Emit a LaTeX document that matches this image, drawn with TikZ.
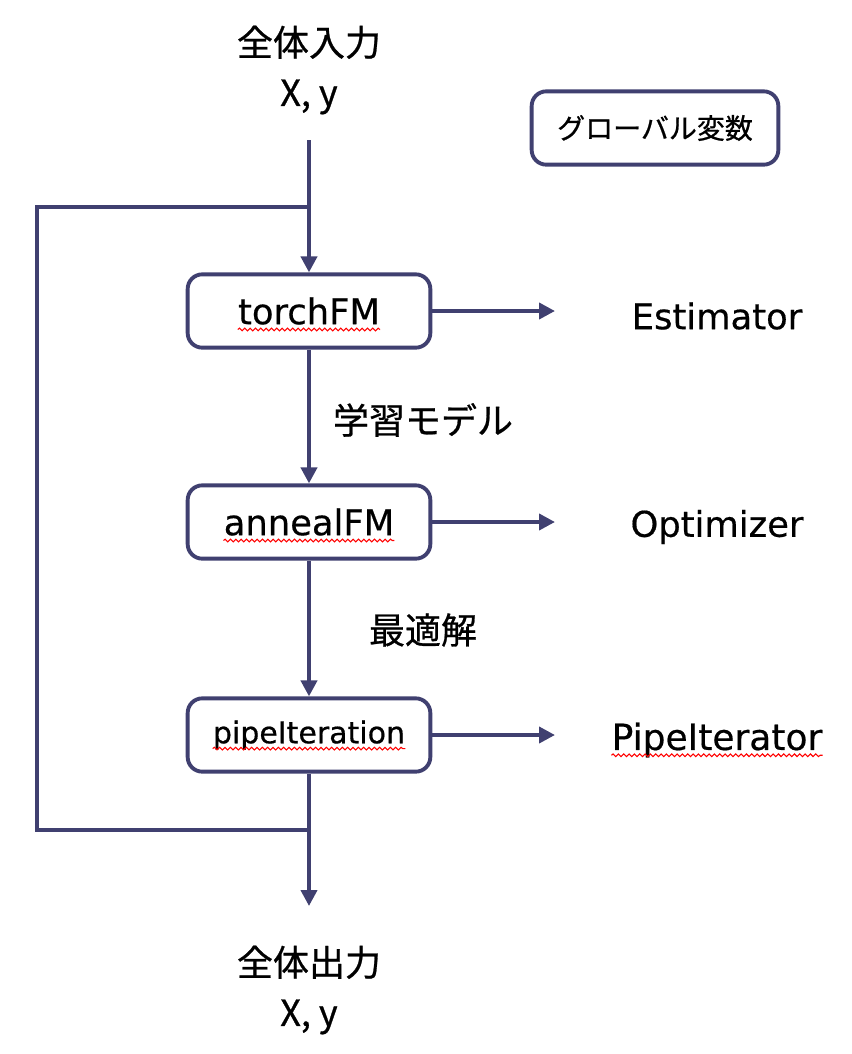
\documentclass[tikz,border=0pt]{standalone}
\usepackage{fontspec}
\setmainfont{Noto Sans CJK JP}[FakeBold=0.7]
\newfontfamily\latin{DejaVu Sans}[FakeBold=0.5]
\usetikzlibrary{arrows.meta,decorations.pathmorphing}
\definecolor{flowblue}{RGB}{64,64,112}

\tikzset{
  flow/.style={draw=flowblue, line width=2.9pt},
  flowarrow/.style={flow, -{Triangle[length=12pt,width=12pt]}},
  funcbox/.style={draw=flowblue, line width=2.9pt, rounded corners=11pt,
    minimum width=182pt, minimum height=55pt, fill=white},
  globalbox/.style={funcbox, minimum width=185pt},
  boxtext/.style={inner sep=0pt, font=\latin\fontsize{26.5}{30}\selectfont},
  sidetext/.style={inner sep=0pt, font=\latin\fontsize{26.5}{30}\selectfont},
  jptext/.style={inner sep=0pt, font=\fontsize{27}{37.5}\selectfont, align=center},
  squiggle/.style={red, line width=0.8pt, decorate,
    decoration={snake, amplitude=1pt, segment length=4pt}}
}

\begin{document}
\begin{tikzpicture}[x=0.75pt, y=-0.75pt]
\useasboundingbox (0,0) rectangle (851,1054);

%input and output
\node[jptext] (input) at (309,70) {全体入力\\X, y};
\node[jptext] (output) at (309,990) {全体出力\\X, y};

%global variables
\node[globalbox] (global) at (655,128) {};
\node[inner sep=0pt, font=\fontsize{21}{24}\selectfont] (globaltxt) at (global) {グローバル変数};

%function boxes
\node[funcbox] (torch) at (309,311) {};
\node[boxtext] (torchtxt) at (torch) {torchFM};
\node[funcbox] (anneal) at (309,522) {};
\node[boxtext] (annealtxt) at (anneal) {annealFM};
\node[funcbox] (pipe) at (309,735) {};
\node[boxtext, font=\latin\fontsize{22.5}{26}\selectfont] (pipetxt) at (pipe) {pipeIteration};

%classes on the right
\node[sidetext] (estimator) at (717,316) {Estimator};
\node[sidetext] (optimizer) at (717,527) {Optimizer};
\node[sidetext, font=\latin\fontsize{27}{30}\selectfont] (iterator) at (717,740) {PipeIterator};
\coordinate (estarrow) at (555,311);
\coordinate (optarrow) at (555,522);
\coordinate (itarrow) at (555,735);

%labels between boxes
\node[jptext] (model) at (423,420) {学習モデル};
\node[jptext] (optimum) at (423,630) {最適解};

%loop
\coordinate (instart) at (309,140);
\coordinate (insplit) at (309,207);
\coordinate (outsplit) at (309,830);
\coordinate (outend) at (309,906);
\coordinate (looptop) at (37,207);
\coordinate (loopbottom) at (37,830);

\draw[flow] (instart) -- (insplit);
\draw[flowarrow] (insplit) -- (torch.north);
\draw[flowarrow] (torch.south) -- (anneal.north);
\draw[flowarrow] (anneal.south) -- (pipe.north);
\draw[flowarrow] (pipe.south) -- (outend);
\draw[flow] (outsplit) -- (loopbottom) -- (looptop) -- (insplit);

\draw[flowarrow] (torch.east) -- (estarrow);
\draw[flowarrow] (anneal.east) -- (optarrow);
\draw[flowarrow] (pipe.east) -- (itarrow);

%spell check marks
\foreach \t in {torchtxt, annealtxt, pipetxt, iterator}{
  \draw[squiggle] ([yshift=-4pt]\t.base west) -- ([yshift=-4pt]\t.base east);
}
\end{tikzpicture}
\end{document}
